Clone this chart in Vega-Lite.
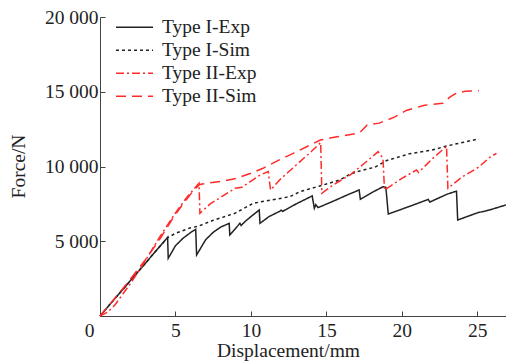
{
  "$schema": "https://vega.github.io/schema/vega-lite/v6.json",
  "width": 406,
  "height": 299,
  "autosize": {"type": "none"},
  "padding": {"left": 100, "top": 17, "right": 0, "bottom": 48},
  "config": {
    "font": "Liberation Serif",
    "view": {"stroke": null},
    "axis": {
      "grid": false,
      "domainColor": "#444",
      "tickColor": "#444",
      "tickSize": -5,
      "labelFontSize": 19.5,
      "labelColor": "#222",
      "titleFontSize": 19.5,
      "titleFontWeight": "normal",
      "titleColor": "#222",
      "labelFont": "Liberation Serif",
      "titleFont": "Liberation Serif"
    },
    "legend": {"labelFont": "Liberation Serif"}
  },
  "data": {
    "values": [
      {"s": "Type I-Exp", "x": 0, "y": 0},
      {"s": "Type I-Exp", "x": 1, "y": 1180},
      {"s": "Type I-Exp", "x": 2, "y": 2350},
      {"s": "Type I-Exp", "x": 3, "y": 3520},
      {"s": "Type I-Exp", "x": 4, "y": 4700},
      {"s": "Type I-Exp", "x": 4.48, "y": 5265},
      {"s": "Type I-Exp", "x": 4.52, "y": 3860},
      {"s": "Type I-Exp", "x": 5.0, "y": 4700},
      {"s": "Type I-Exp", "x": 5.5, "y": 5200},
      {"s": "Type I-Exp", "x": 6.0, "y": 5580},
      {"s": "Type I-Exp", "x": 6.34, "y": 5800},
      {"s": "Type I-Exp", "x": 6.4, "y": 4080},
      {"s": "Type I-Exp", "x": 7.0, "y": 5100},
      {"s": "Type I-Exp", "x": 7.5, "y": 5600},
      {"s": "Type I-Exp", "x": 8.0, "y": 5950},
      {"s": "Type I-Exp", "x": 8.56, "y": 6200},
      {"s": "Type I-Exp", "x": 8.6, "y": 5420},
      {"s": "Type I-Exp", "x": 9.27, "y": 6200},
      {"s": "Type I-Exp", "x": 9.35, "y": 6050},
      {"s": "Type I-Exp", "x": 9.6, "y": 6310},
      {"s": "Type I-Exp", "x": 10.0, "y": 6650},
      {"s": "Type I-Exp", "x": 10.55, "y": 7090},
      {"s": "Type I-Exp", "x": 10.6, "y": 6200},
      {"s": "Type I-Exp", "x": 11.2, "y": 6650},
      {"s": "Type I-Exp", "x": 11.9, "y": 7000},
      {"s": "Type I-Exp", "x": 12.0, "y": 7080},
      {"s": "Type I-Exp", "x": 12.1, "y": 7000},
      {"s": "Type I-Exp", "x": 13.0, "y": 7500},
      {"s": "Type I-Exp", "x": 14.0, "y": 8000},
      {"s": "Type I-Exp", "x": 14.06, "y": 8030},
      {"s": "Type I-Exp", "x": 14.2, "y": 7200},
      {"s": "Type I-Exp", "x": 14.3, "y": 7450},
      {"s": "Type I-Exp", "x": 14.45, "y": 7250},
      {"s": "Type I-Exp", "x": 15.5, "y": 7700},
      {"s": "Type I-Exp", "x": 16.5, "y": 8150},
      {"s": "Type I-Exp", "x": 17.17, "y": 8430},
      {"s": "Type I-Exp", "x": 17.25, "y": 7800},
      {"s": "Type I-Exp", "x": 18.0, "y": 8250},
      {"s": "Type I-Exp", "x": 18.76, "y": 8650},
      {"s": "Type I-Exp", "x": 18.94, "y": 8610},
      {"s": "Type I-Exp", "x": 19.1, "y": 6820},
      {"s": "Type I-Exp", "x": 20.5, "y": 7330},
      {"s": "Type I-Exp", "x": 21.75, "y": 7800},
      {"s": "Type I-Exp", "x": 21.85, "y": 7620},
      {"s": "Type I-Exp", "x": 23.0, "y": 8150},
      {"s": "Type I-Exp", "x": 23.62, "y": 8350},
      {"s": "Type I-Exp", "x": 23.7, "y": 6420},
      {"s": "Type I-Exp", "x": 25.0, "y": 6900},
      {"s": "Type I-Exp", "x": 25.8, "y": 7090},
      {"s": "Type I-Exp", "x": 26.9, "y": 7430},

      {"s": "Type I-Sim", "x": 0, "y": 0},
      {"s": "Type I-Sim", "x": 1, "y": 1180},
      {"s": "Type I-Sim", "x": 2, "y": 2350},
      {"s": "Type I-Sim", "x": 3, "y": 3520},
      {"s": "Type I-Sim", "x": 4, "y": 4700},
      {"s": "Type I-Sim", "x": 4.5, "y": 5250},
      {"s": "Type I-Sim", "x": 5.0, "y": 5530},
      {"s": "Type I-Sim", "x": 6.0, "y": 5900},
      {"s": "Type I-Sim", "x": 6.5, "y": 6000},
      {"s": "Type I-Sim", "x": 7.5, "y": 6400},
      {"s": "Type I-Sim", "x": 8.94, "y": 6870},
      {"s": "Type I-Sim", "x": 10.15, "y": 7540},
      {"s": "Type I-Sim", "x": 11.0, "y": 7700},
      {"s": "Type I-Sim", "x": 12.58, "y": 7980},
      {"s": "Type I-Sim", "x": 13.25, "y": 8320},
      {"s": "Type I-Sim", "x": 14.57, "y": 8700},
      {"s": "Type I-Sim", "x": 15.9, "y": 9100},
      {"s": "Type I-Sim", "x": 16.5, "y": 9450},
      {"s": "Type I-Sim", "x": 17.2, "y": 9700},
      {"s": "Type I-Sim", "x": 18.2, "y": 9950},
      {"s": "Type I-Sim", "x": 19.0, "y": 10400},
      {"s": "Type I-Sim", "x": 20.5, "y": 10850},
      {"s": "Type I-Sim", "x": 22.0, "y": 11100},
      {"s": "Type I-Sim", "x": 22.96, "y": 11370},
      {"s": "Type I-Sim", "x": 24.0, "y": 11600},
      {"s": "Type I-Sim", "x": 25.1, "y": 11850},

      {"s": "Type II-Exp", "x": 0, "y": 0},
      {"s": "Type II-Exp", "x": 0.5, "y": 250},
      {"s": "Type II-Exp", "x": 1, "y": 750},
      {"s": "Type II-Exp", "x": 2, "y": 2150},
      {"s": "Type II-Exp", "x": 3, "y": 3700},
      {"s": "Type II-Exp", "x": 4, "y": 5350},
      {"s": "Type II-Exp", "x": 5, "y": 6900},
      {"s": "Type II-Exp", "x": 5.8, "y": 8000},
      {"s": "Type II-Exp", "x": 6.56, "y": 8880},
      {"s": "Type II-Exp", "x": 6.62, "y": 6870},
      {"s": "Type II-Exp", "x": 7.3, "y": 7500},
      {"s": "Type II-Exp", "x": 8.06, "y": 7980},
      {"s": "Type II-Exp", "x": 8.94, "y": 8540},
      {"s": "Type II-Exp", "x": 9.4, "y": 8610},
      {"s": "Type II-Exp", "x": 10.6, "y": 9430},
      {"s": "Type II-Exp", "x": 11.15, "y": 9660},
      {"s": "Type II-Exp", "x": 11.3, "y": 8430},
      {"s": "Type II-Exp", "x": 11.9, "y": 9100},
      {"s": "Type II-Exp", "x": 13.0, "y": 10100},
      {"s": "Type II-Exp", "x": 14.0, "y": 11000},
      {"s": "Type II-Exp", "x": 14.62, "y": 11600},
      {"s": "Type II-Exp", "x": 14.7, "y": 8210},
      {"s": "Type II-Exp", "x": 15.5, "y": 8800},
      {"s": "Type II-Exp", "x": 16.56, "y": 9430},
      {"s": "Type II-Exp", "x": 17.5, "y": 10200},
      {"s": "Type II-Exp", "x": 18.43, "y": 10990},
      {"s": "Type II-Exp", "x": 18.75, "y": 10550},
      {"s": "Type II-Exp", "x": 18.85, "y": 8430},
      {"s": "Type II-Exp", "x": 20.0, "y": 9200},
      {"s": "Type II-Exp", "x": 20.97, "y": 9770},
      {"s": "Type II-Exp", "x": 21.1, "y": 9600},
      {"s": "Type II-Exp", "x": 22.0, "y": 10500},
      {"s": "Type II-Exp", "x": 22.96, "y": 11350},
      {"s": "Type II-Exp", "x": 23.05, "y": 8540},
      {"s": "Type II-Exp", "x": 24.0, "y": 9300},
      {"s": "Type II-Exp", "x": 25.08, "y": 9950},
      {"s": "Type II-Exp", "x": 25.83, "y": 10620},
      {"s": "Type II-Exp", "x": 26.27, "y": 10880},

      {"s": "Type II-Sim", "x": 0, "y": 0},
      {"s": "Type II-Sim", "x": 1, "y": 1200},
      {"s": "Type II-Sim", "x": 2, "y": 2450},
      {"s": "Type II-Sim", "x": 3, "y": 3750},
      {"s": "Type II-Sim", "x": 4, "y": 5200},
      {"s": "Type II-Sim", "x": 4.75, "y": 6420},
      {"s": "Type II-Sim", "x": 5.5, "y": 7500},
      {"s": "Type II-Sim", "x": 6.2, "y": 8400},
      {"s": "Type II-Sim", "x": 6.6, "y": 8800},
      {"s": "Type II-Sim", "x": 7.2, "y": 8900},
      {"s": "Type II-Sim", "x": 8, "y": 9000},
      {"s": "Type II-Sim", "x": 9, "y": 9200},
      {"s": "Type II-Sim", "x": 10, "y": 9550},
      {"s": "Type II-Sim", "x": 10.8, "y": 9880},
      {"s": "Type II-Sim", "x": 12, "y": 10500},
      {"s": "Type II-Sim", "x": 12.8, "y": 10880},
      {"s": "Type II-Sim", "x": 14.6, "y": 11770},
      {"s": "Type II-Sim", "x": 15.5, "y": 11950},
      {"s": "Type II-Sim", "x": 17.2, "y": 12250},
      {"s": "Type II-Sim", "x": 17.7, "y": 12780},
      {"s": "Type II-Sim", "x": 18.5, "y": 12900},
      {"s": "Type II-Sim", "x": 19.5, "y": 13300},
      {"s": "Type II-Sim", "x": 20.3, "y": 13750},
      {"s": "Type II-Sim", "x": 21.5, "y": 14100},
      {"s": "Type II-Sim", "x": 22.7, "y": 14230},
      {"s": "Type II-Sim", "x": 23.2, "y": 14650},
      {"s": "Type II-Sim", "x": 23.6, "y": 14900},
      {"s": "Type II-Sim", "x": 24.2, "y": 15030},
      {"s": "Type II-Sim", "x": 25.1, "y": 15070}
    ]
  },
  "mark": {"type": "line", "strokeWidth": 1.5},
  "encoding": {
    "x": {
      "field": "x",
      "type": "quantitative",
      "scale": {"domain": [0, 26.9], "nice": false},
      "axis": {
        "title": "Displacement/mm",
        "values": [0, 5, 10, 15, 20, 25],
        "labelPadding": 10,
        "labelFlush": false,
        "labelOffset": {"condition": {"test": "datum.value == 0", "value": -11}, "value": 0},
        "titleX": 188,
        "titleY": 40,
        "titleBaseline": "alphabetic",
        "titleAnchor": null
      }
    },
    "y": {
      "field": "y",
      "type": "quantitative",
      "scale": {"domain": [0, 20000], "nice": false},
      "axis": {
        "title": "Force/N",
        "values": [0, 5000, 10000, 15000, 20000],
        "labelExpr": "datum.value == 0 ? '' : replace(format(datum.value, ','), ',', ' ')",
        "labelPadding": 7,
        "labelFlush": false,
        "titleX": -82,
        "titleY": 149,
        "titleAngle": -90,
        "titleAlign": "center",
        "titleBaseline": "middle",
        "titleAnchor": null
      }
    },
    "color": {
      "field": "s",
      "type": "nominal",
      "scale": {
        "domain": ["Type I-Exp", "Type I-Sim", "Type II-Exp", "Type II-Sim"],
        "range": ["#222222", "#222222", "#ff2a2a", "#ff2a2a"]
      },
      "legend": {
        "title": null,
        "orient": "none",
        "legendX": 15,
        "legendY": -1,
        "padding": 0,
        "symbolType": "stroke",
        "symbolSize": 1369,
        "symbolStrokeWidth": 1.5,
        "labelFontSize": 19.5,
        "labelColor": "#222",
        "labelOffset": 8,
        "clipHeight": 22.7,
        "rowPadding": 0
      }
    },
    "strokeDash": {
      "field": "s",
      "type": "nominal",
      "scale": {
        "domain": ["Type I-Exp", "Type I-Sim", "Type II-Exp", "Type II-Sim"],
        "range": [[1, 0], [3, 3], [8, 3, 2, 3], [10, 6]]
      },
      "legend": {
        "title": null,
        "orient": "none",
        "legendX": 15,
        "legendY": -1,
        "padding": 0,
        "symbolType": "stroke",
        "symbolSize": 1369,
        "symbolStrokeWidth": 1.5,
        "labelFontSize": 19.5,
        "labelColor": "#222",
        "labelOffset": 8,
        "clipHeight": 22.7,
        "rowPadding": 0
      }
    }
  }
}
